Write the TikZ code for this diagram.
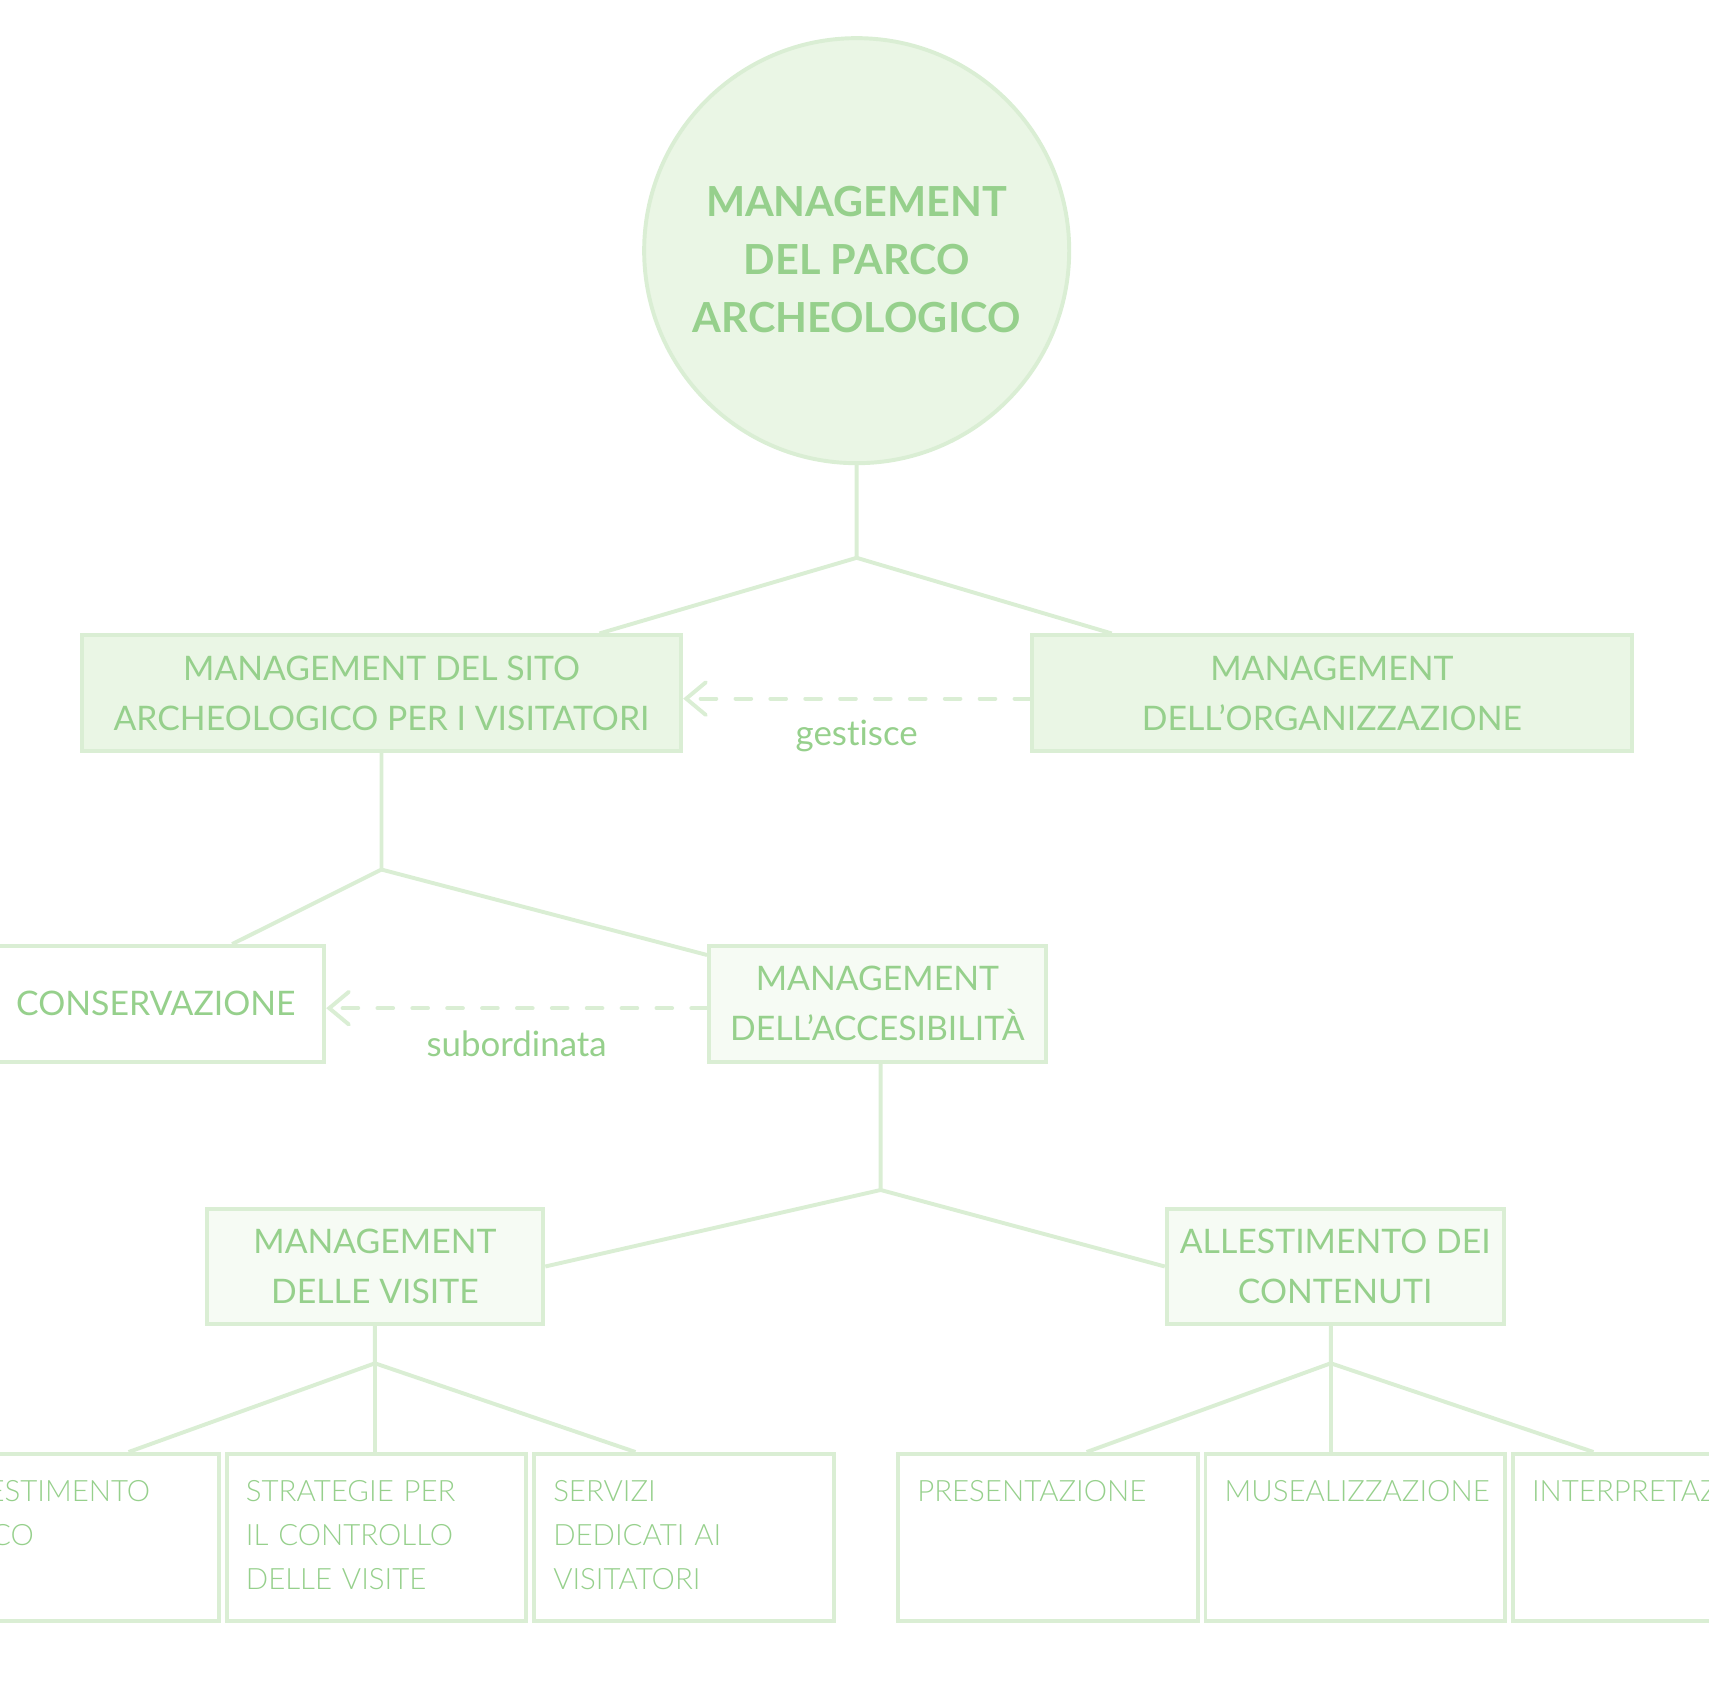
\documentclass[tikz,border=0pt]{standalone}
\usepackage{fontspec}
\setmainfont{Lato}[Ligatures=NoCommon]
\newfontfamily\lightfont{Lato Light}
\usetikzlibrary{positioning, arrows.meta, calc}

\definecolor{textgreen}{RGB}{150,208,140}
\definecolor{linegreen}{RGB}{218,238,212}
\definecolor{fillgreen}{RGB}{234,246,229}
\definecolor{palegreen}{RGB}{246,251,244}

\begin{document}
\begin{tikzpicture}[x=0.5pt, y=-0.5pt, on grid, node distance=141pt,
    every node/.style={text=textgreen},
    wire/.style={draw=linegreen, line width=1.8pt},
    link/.style={wire, dash pattern=on 7.2pt off 8.8pt, line cap=round,
      -{Straight Barb[length=9pt, width=15pt, line cap=round]}},
    root/.style={circle, draw=linegreen, line width=1.8pt, fill=fillgreen,
      minimum size=195pt, align=center, font=\bfseries\fontsize{19}{26.5}\selectfont},
    box/.style={rectangle, draw=linegreen, line width=1.8pt, minimum width=154.5pt,
      minimum height=53pt, inner sep=2pt, align=center, font=\fontsize{15.5}{23}\selectfont},
    leaf/.style={rectangle, draw=linegreen, line width=1.8pt, fill=white,
      minimum width=137.5pt, minimum height=76.5pt},
    leaftext/.style={anchor=north west, inner sep=0pt, text width=122pt, align=left,
      font=\lightfont\fontsize{13.5}{20}\selectfont},
    tag/.style={font=\fontsize{16}{19}\selectfont}]
  \useasboundingbox (0,0) rectangle (1568,1545);
  \clip (0,0) rectangle (1568,1545);

  \node[root]                                 (0) at (786,230)   {\rule{0pt}{21.8pt}MANAGEMENT\\DEL PARCO\\ARCHEOLOGICO};
  \node[box, fill=fillgreen, minimum width=275pt] (1) at (350,636)  {MANAGEMENT DEL SITO\\ARCHEOLOGICO PER I VISITATORI};
  \node[box, fill=fillgreen, minimum width=275pt] (2) at (1222,636) {MANAGEMENT\\DELL’ORGANIZZAZIONE};
  \node[box, fill=white]                      (3) at (143,921)   {CONSERVAZIONE};
  \node[box, fill=palegreen]                  (4) at (805,921)   {MANAGEMENT\\DELL’ACCESIBILITÀ};
  \node[box, fill=palegreen]                  (5) at (344,1162)  {MANAGEMENT\\DELLE VISITE};
  \node[box, fill=palegreen]                  (6) at (1225,1162) {ALLESTIMENTO DEI\\CONTENUTI};

  \node[leaf] (7)  at (63.5,1410.5)  {};
  \node[leaf] (8)  [right=of 7]      {};
  \node[leaf] (9)  [right=of 8]      {};
  \node[leaf] (10) at (961.5,1410.5) {};
  \node[leaf] (11) [right=of 10]     {};
  \node[leaf] (12) [right=of 11]     {};

  \node[leaftext] (7t)  at ($(7.north west)+(19,26)$)  {ALLESTIMENTO\\PARCO};
  \node[leaftext] (8t)  at ($(8.north west)+(19,26)$)  {STRATEGIE PER\\IL CONTROLLO\\DELLE VISITE};
  \node[leaftext] (9t)  at ($(9.north west)+(19,26)$)  {SERVIZI\\DEDICATI AI\\VISITATORI};
  \node[leaftext] (10t) at ($(10.north west)+(19,26)$) {PRESENTAZIONE};
  \node[leaftext] (11t) at ($(11.north west)+(19,26)$) {MUSEALIZZAZIONE};
  \node[leaftext] (12t) at ($(12.north west)+(19,26)$) {INTERPRETAZIONE};

  \coordinate (a) at ($(0.south)+(0,85)$);
  \coordinate (b) at ($(1.south)+(0,107)$);
  \coordinate (c) at ($(4.south)+(3,116)$);
  \coordinate (d) at ($(5.south)+(0,34)$);
  \coordinate (e) at ($(6.south)+(-4,34)$);

  \draw[wire] (0.south) -- (a) -- ($(1.north)+(200,0)$);
  \draw[wire] (a) -- ($(2.north)+(-202,0)$);
  \draw[link] ([yshift=-2.5pt]2.west) -- node[tag, below=5.5pt] {gestisce} ([yshift=-2.5pt]1.east);

  \draw[wire] (1.south) -- (b) -- ($(3.north)+(70,0)$);
  \draw[wire] (b) -- ($(4.north west)+(0,10)$);
  \draw[link] ([yshift=-2pt]4.west) -- node[tag, below=6pt] {subordinata} ([yshift=-2pt]3.east);

  \draw[wire] (c |- 4.south) -- (c) -- (5.east);
  \draw[wire] (c) -- (6.west);

  \draw[wire] (5.south) -- (d) -- ($(7.north)+(54.5,0)$);
  \draw[wire] (d) -- (d |- 8.north);
  \draw[wire] (d) -- ($(9.north)+(-44.5,0)$);

  \draw[wire] (e |- 6.south) -- (e) -- ($(10.north)+(35.5,0)$);
  \draw[wire] (e) -- (e |- 11.north);
  \draw[wire] (e) -- ($(12.north)+(-63.5,0)$);
\end{tikzpicture}
\end{document}
